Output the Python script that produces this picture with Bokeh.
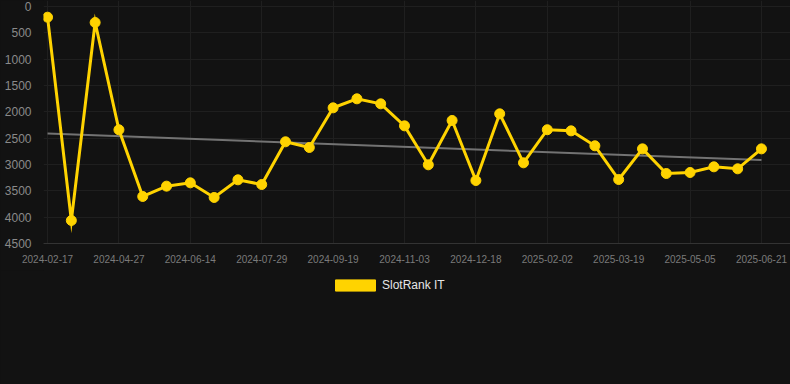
import numpy as np
from bokeh.plotting import figure
from bokeh.layouts import column
from bokeh.models import (ColumnDataSource, Range1d, FixedTicker, Legend, LegendItem)
from bokeh.embed import file_html
from bokeh.resources import INLINE

# ---- data ----
ranks = [203, 4063, 304, 2341, 3607, 3411, 3348, 3626, 3291, 3380,
         2569, 2677, 1924, 1753, 1848, 2266, 3006, 2164, 3304, 2038,
         2968, 2340, 2361, 2645, 3285, 2703, 3171, 3152, 3044, 3082, 2703]
tick_labels = ["2024-02-17", "2024-04-27", "2024-06-14", "2024-07-29", "2024-09-19",
               "2024-11-03", "2024-12-18", "2025-02-02", "2025-03-19", "2025-05-05",
               "2025-06-21"]
tick_step = 3
y_ticks = [0, 500, 1000, 1500, 2000, 2500, 3000, 3500, 4000, 4500]
series_name = "SlotRank IT"

idx = list(range(len(ranks)))
slope, intercept = np.polyfit(idx, ranks, 1)
trend_x = [idx[0], idx[-1]]
trend_y = [intercept + slope * idx[0], intercept + slope * idx[-1]]

BG = "#121212"
GOLD = "#ffd300"
FONT = "Liberation Sans"

p = figure(width=790, height=270, output_backend="svg", toolbar_location=None,
           x_range=Range1d(-0.17, 31.22), y_range=Range1d(4500, -114),
           min_border_left=43, min_border_right=0, min_border_top=0,
           min_border_bottom=27, background_fill_color=BG,
           border_fill_color=BG, outline_line_color=None,
           styles={"background-color": BG})

src = ColumnDataSource(dict(x=idx, y=ranks))
p.line(trend_x, trend_y, line_color="#737373", line_width=2)
ln = p.line("x", "y", source=src, line_color=GOLD, line_width=3, line_join="miter")
sc = p.scatter("x", "y", source=src, size=10, fill_color=GOLD, line_color=GOLD)

# axes
xticks = idx[::tick_step]
p.xaxis.ticker = FixedTicker(ticks=xticks)
p.xaxis.major_label_overrides = {t: lab for t, lab in zip(xticks, tick_labels)}
p.yaxis.ticker = FixedTicker(ticks=y_ticks)
for ax in (p.xaxis[0], p.yaxis[0]):
    ax.major_tick_line_color = None
    ax.minor_tick_line_color = None
    ax.major_label_text_font = FONT
p.xaxis.axis_line_color = "#333333"
p.yaxis.axis_line_color = None
p.xaxis.major_label_text_font_size = "10px"
p.xaxis.major_label_text_color = "#7a7a7a"
p.xaxis.major_label_standoff = 5
p.yaxis.major_label_text_font_size = "12px"
p.yaxis.major_label_text_color = "#8a8a8a"
p.yaxis.major_label_standoff = 6

p.xgrid.grid_line_color = "#1f1f1f"
p.ygrid.grid_line_color = "#1f1f1f"
p.xgrid.ticker = FixedTicker(ticks=xticks)
p.ygrid.ticker = FixedTicker(ticks=y_ticks)

# legend figure below (filled bar swatch)
lf = figure(width=790, height=114, output_backend="svg", toolbar_location=None,
            x_range=Range1d(0, 1), y_range=Range1d(0, 1),
            min_border_left=0, min_border_right=0, min_border_top=0,
            min_border_bottom=0, background_fill_color=BG,
            border_fill_color=BG, outline_line_color=None,
            styles={"background-color": BG})
lf.axis.visible = False
lf.grid.visible = False
swatch = lf.rect(x=[-10], y=[-10], width=1, height=1, fill_color=GOLD, line_color=GOLD)
legend = Legend(items=[LegendItem(label=series_name, renderers=[swatch])],
                orientation="horizontal", location=(287, 92),
                border_line_alpha=0, background_fill_alpha=0,
                label_text_color="#e6e6e6", label_text_font=FONT,
                label_text_font_size="12px", glyph_width=50, glyph_height=14,
                padding=0, margin=0, label_standoff=2, label_height=14)
lf.add_layout(legend, "center")

layout = column(p, lf, spacing=0, styles={"background-color": BG})
html = file_html(layout, INLINE)
html = html.replace("<head>", "<head><style>html,body{background:%s;margin:0;}</style>" % BG, 1)
open("out.html", "w").write(html)
